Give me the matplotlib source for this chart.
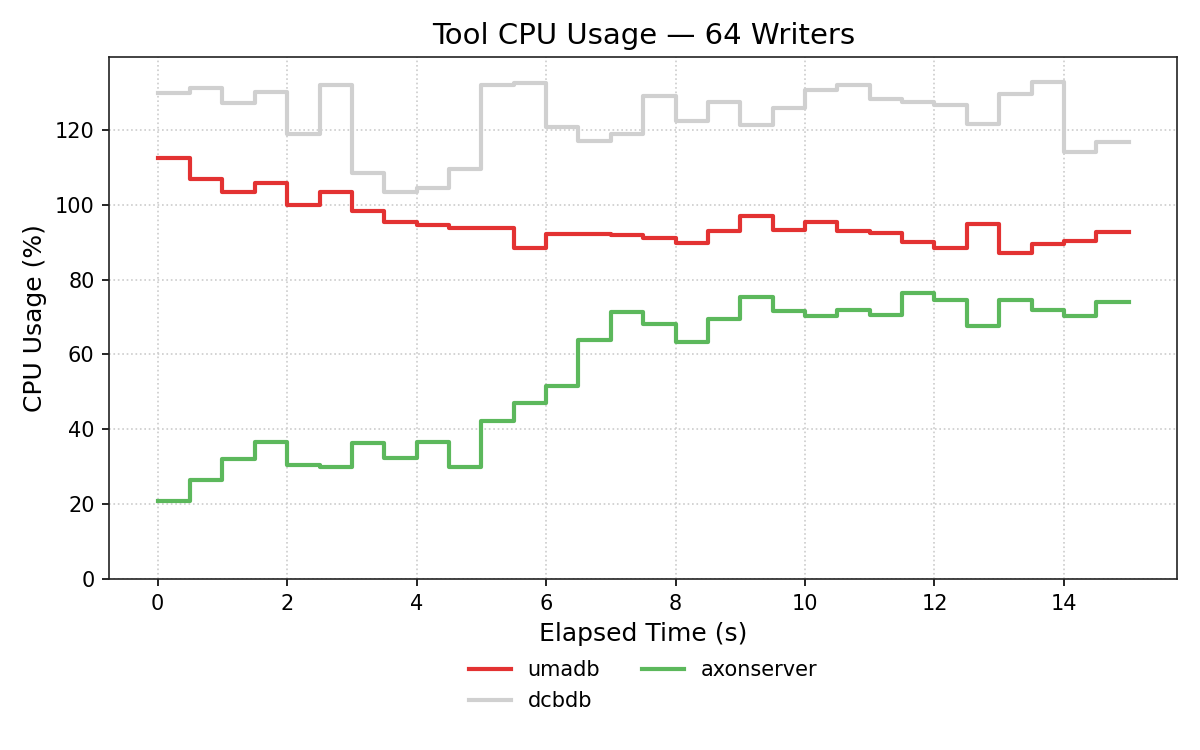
import matplotlib
matplotlib.use("Agg")
import matplotlib.pyplot as plt
import numpy as np

time_s = [i * 0.5 for i in range(31)]

umadb = [112.6, 106.8, 103.3, 105.8, 99.9, 103.3, 98.4, 95.3, 94.6, 93.7,
         93.7, 88.4, 92.2, 92.2, 91.9, 91.0, 89.7, 93.1, 97.1, 93.3,
         95.5, 93.1, 92.4, 90.0, 88.5, 94.8, 87.1, 89.5, 90.2, 92.8, 92.8]

dcbdb = [130.0, 131.1, 127.3, 130.2, 118.8, 132.1, 108.4, 103.4, 104.6, 109.7,
         131.9, 132.6, 120.8, 117.0, 118.9, 129.0, 122.5, 127.6, 121.2, 126.0,
         130.8, 131.9, 128.4, 127.6, 126.6, 121.5, 129.7, 132.9, 114.1, 116.9, 116.9]

axonserver = [20.9, 26.5, 32.1, 36.5, 30.4, 30.0, 36.3, 32.4, 36.5, 30.0,
              42.3, 47.1, 51.5, 64.0, 71.3, 68.1, 63.3, 69.6, 75.4, 71.6,
              70.3, 71.9, 70.5, 76.4, 74.6, 67.5, 74.6, 71.9, 70.3, 74.0, 74.0]

series_names = ["umadb", "dcbdb", "axonserver"]
series_colors = ["#e33232", "#d0d0d0", "#5cb85c"]

fig = plt.figure(figsize=(8, 5), dpi=150)
ax = fig.add_axes([0.091, 0.228, 0.890, 0.696])

for name, vals, col in zip(series_names, [umadb, dcbdb, axonserver], series_colors):
    ax.step(time_s, vals, where="post", color=col, lw=2, label=name)

ax.set_ylim(0, 139.5)
ax.set_xlim(-0.75, 15.75)
ax.set_xticks(np.arange(0, 15, 2))
ax.set_yticks(np.arange(0, 140, 20))
ax.grid(True, linestyle=":", color="#cccccc", linewidth=0.8)
ax.set_axisbelow(True)
ax.set_title("Tool CPU Usage — 64 Writers", fontsize=14)
ax.set_xlabel("Elapsed Time (s)", fontsize=12)
ax.set_ylabel("CPU Usage (%)", fontsize=12)
ax.tick_params(labelsize=10)
for s in ax.spines.values():
    s.set_color("#222222")

ax.legend(loc="upper center", bbox_to_anchor=(0.5, -0.12), ncol=2, frameon=False,
          fontsize=10)

fig.savefig("out.png", dpi=150)
